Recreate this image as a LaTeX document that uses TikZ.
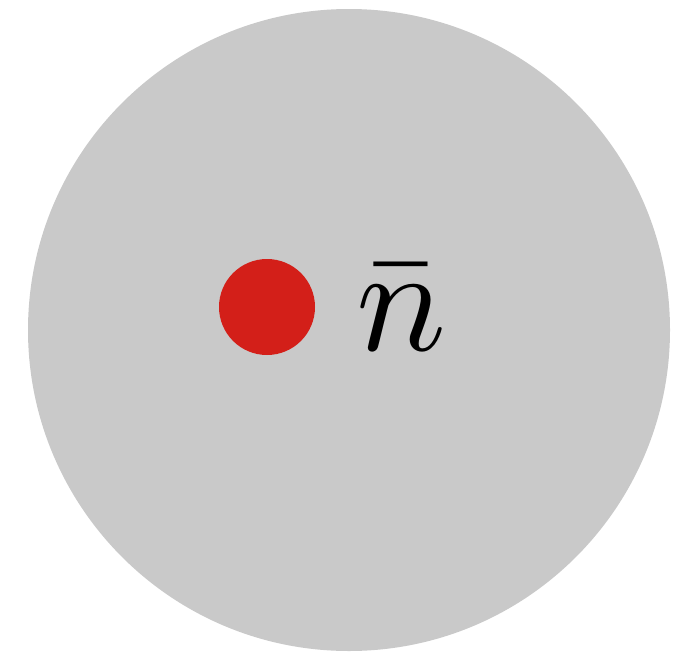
\documentclass[tikz,border=0pt]{standalone}
\definecolor{disk}{HTML}{C9C9C9}
\definecolor{dotred}{HTML}{D31F19}
\begin{document}
\begin{tikzpicture}[x=1pt,y=-1pt]
\useasboundingbox (0,0) rectangle (682,653);
\fill[disk] (349,330) circle (321);
\node[circle,fill=dotred,minimum size=96pt,inner sep=0] (dot) at (267,307) {};
\node[anchor=base west,inner sep=0] (lab) at (356,350) {\scalebox{15}{$\bar{n}$}};
\end{tikzpicture}
\end{document}
